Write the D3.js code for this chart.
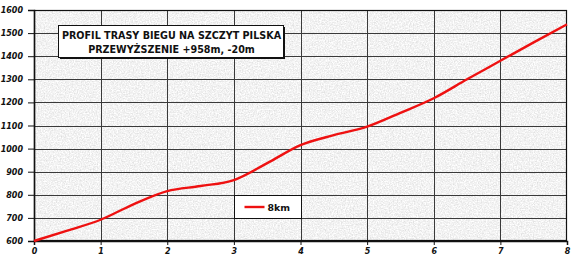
<!DOCTYPE html>
<html lang="pl">
<head>
<meta charset="UTF-8">
<title>Profil trasy biegu na szczyt Pilska</title>
<script src="https://d3js.org/d3.v7.min.js"></script>
<style>
  body { margin: 0; background: #fff; }
  svg text { font-family: "DejaVu Sans", Verdana, sans-serif; }
</style>
</head>
<body>
<div id="chart"></div>
<script>
// dane (co 0.5 km)
const distances = [0, 0.5, 1, 1.5, 2, 2.5, 3, 3.5, 4, 4.5, 5, 5.5, 6, 6.5, 7, 7.5, 8];
const elevations = [600, 645, 692, 760, 816, 838, 864, 937, 1015, 1058, 1095, 1155, 1218, 1300, 1380, 1460, 1538];
const xTicks = [0, 1, 2, 3, 4, 5, 6, 7, 8];
const yTicks = [600, 700, 800, 900, 1000, 1100, 1200, 1300, 1400, 1500, 1600];
const titleLines = ["PROFIL TRASY BIEGU NA SZCZYT PILSKA", "PRZEWYŻSZENIE +958m, -20m"];
const seriesName = "8km";

const width = 577, height = 264;
const margin = { top: 10, right: 10, bottom: 23, left: 34 };

const svg = d3.select("#chart").append("svg")
  .attr("width", width)
  .attr("height", height);

const x = d3.scaleLinear().domain([0, 8]).range([margin.left, width - margin.right]);
const y = d3.scaleLinear().domain([600, 1600]).range([height - margin.bottom, margin.top]);

// ziarnista tekstura tla
const defs = svg.append("defs");
const f = defs.append("filter").attr("id", "grain")
  .attr("color-interpolation-filters", "sRGB")
  .attr("x", 0).attr("y", 0).attr("width", "100%").attr("height", "100%");
f.append("feTurbulence").attr("type", "fractalNoise").attr("baseFrequency", 0.75)
  .attr("numOctaves", 2).attr("seed", 5).attr("result", "noise");
f.append("feColorMatrix").attr("in", "noise").attr("type", "matrix")
  .attr("values", "0.22 0 0 0 0.84  0.22 0 0 0 0.84  0.22 0 0 0 0.84  0 0 0 0 1");

const pw = x(8) - x(0), ph = y(600) - y(1600);
svg.append("rect").attr("x", x(0)).attr("y", y(1600)).attr("width", pw).attr("height", ph)
  .attr("fill", "#e8e8e8").attr("filter", "url(#grain)");

// siatka
svg.append("g").selectAll("line").data(yTicks.slice(1, -1)).join("line")
  .attr("x1", x(0)).attr("x2", x(8))
  .attr("y1", d => Math.round(y(d)) + 0.5).attr("y2", d => Math.round(y(d)) + 0.5)
  .attr("stroke", "#3a3a3a").attr("stroke-width", 1);
svg.append("g").selectAll("line").data(xTicks.slice(1, -1)).join("line")
  .attr("y1", y(600)).attr("y2", y(1600))
  .attr("x1", d => Math.round(x(d)) + 0.5).attr("x2", d => Math.round(x(d)) + 0.5)
  .attr("stroke", "#3a3a3a").attr("stroke-width", 1);

// ramka
svg.append("rect").attr("x", x(0) + 0.5).attr("y", y(1600) + 0.5)
  .attr("width", pw - 1).attr("height", ph - 1)
  .attr("fill", "none").attr("stroke", "#111").attr("stroke-width", 1.2);

// osie
const yAxis = svg.append("g").attr("transform", `translate(${x(0)},0)`)
  .call(d3.axisLeft(y).tickValues(yTicks).tickFormat(d3.format("d")).tickSize(6).tickPadding(5));
const xAxis = svg.append("g").attr("transform", `translate(0,${y(600)})`)
  .call(d3.axisBottom(x).tickValues(xTicks).tickFormat(d3.format("d")).tickSize(4).tickPadding(3));
[yAxis, xAxis].forEach(a => {
  a.select(".domain").attr("stroke", "#111").attr("stroke-width", 1.5);
  a.selectAll(".tick line").attr("stroke", "#111");
  a.selectAll(".tick text")
    .attr("fill", "#111")
    .attr("font-family", "'DejaVu Sans', Verdana, sans-serif")
    .attr("font-size", 8)
    .attr("font-weight", "bold")
    .attr("font-style", "italic");
});

// linia profilu
const line = d3.line()
  .x((d, i) => x(distances[i]))
  .y(d => y(d))
  .curve(d3.curveMonotoneX);
svg.append("path").datum(elevations)
  .attr("d", line)
  .attr("fill", "none")
  .attr("stroke", "#ee1111")
  .attr("stroke-width", 2.4);

// tytul w ramce z cieniem
const tb = { x: 58, y: 25, w: 225, h: 32 };
svg.append("rect").attr("x", tb.x + 2).attr("y", tb.y + 2).attr("width", tb.w).attr("height", tb.h)
  .attr("fill", "#111");
svg.append("rect").attr("x", tb.x + 0.5).attr("y", tb.y + 0.5).attr("width", tb.w).attr("height", tb.h)
  .attr("fill", "#fff").attr("stroke", "#111").attr("stroke-width", 1);
svg.append("g").selectAll("text").data(titleLines).join("text")
  .attr("x", tb.x + tb.w / 2 + 1)
  .attr("y", (d, i) => tb.y + 13.5 + i * 14)
  .attr("text-anchor", "middle")
  .attr("font-size", 9.6)
  .attr("font-weight", "bold")
  .attr("fill", "#111")
  .text(d => d);

// legenda
const lg = { x: Math.round(x(3)) + 0.5, y: Math.round(y(800)) + 0.5 };
const lgW = Math.round(x(4)) - Math.round(x(3)), lgH = Math.round(y(700)) - Math.round(y(800));
svg.append("rect").attr("x", lg.x).attr("y", lg.y).attr("width", lgW).attr("height", lgH)
  .attr("fill", "#fff").attr("stroke", "#111").attr("stroke-width", 1);
svg.append("line")
  .attr("x1", lg.x + 10).attr("x2", lg.x + 30)
  .attr("y1", lg.y + lgH / 2).attr("y2", lg.y + lgH / 2)
  .attr("stroke", "#ee1111").attr("stroke-width", 2.4);
svg.append("text")
  .attr("x", lg.x + 33).attr("y", lg.y + lgH / 2 + 3.5)
  .attr("font-size", 9.4).attr("font-weight", "bold").attr("fill", "#111")
  .text(seriesName);
</script>
</body>
</html>
